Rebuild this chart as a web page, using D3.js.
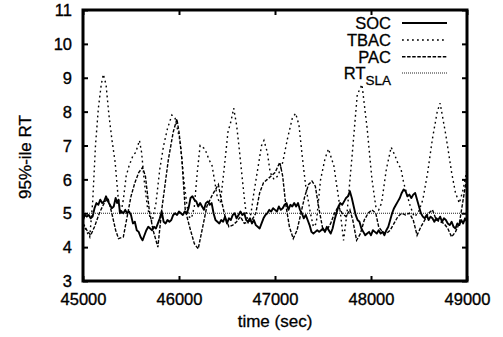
<!DOCTYPE html>
<html><head><meta charset="utf-8">
<script src="https://cdn.jsdelivr.net/npm/d3@7"></script>
<style>
html,body{margin:0;padding:0;background:#fff;}
svg{display:block;font-family:"Liberation Sans",Arial,Helvetica,sans-serif;}
</style></head>
<body>
<svg id="chart" width="503" height="337"></svg>
<script>
// ---------- data ----------
const xTicks = [45000, 46000, 47000, 48000, 49000];
const yTicks = [3, 4, 5, 6, 7, 8, 9, 10, 11];
const seriesNames = ["SOC", "TBAC", "PAC", "RT_SLA"];
const slaValue = 5;

const socData = [
[45000,4.8],[45020,4.95],[45040,4.9],[45060,4.95],[45080,4.85],[45100,4.9],[45120,5.15],[45140,5.3],[45160,5.25],[45180,5.4],
[45200,5.3],[45220,5.35],[45240,5.5],[45260,5.35],[45280,5.25],[45300,5.15],[45320,5.2],[45340,5.45],[45355,5.3],[45370,5.4],
[45385,5.0],[45400,5.05],[45420,5.0],[45440,5.1],[45460,5.0],[45480,5.05],[45500,4.95],[45520,4.7],[45540,4.75],[45560,4.5],
[45580,4.45],[45600,4.3],[45620,4.2],[45640,4.35],[45660,4.5],[45680,4.6],[45700,4.55],[45720,4.5],[45740,4.6],[45760,4.55],
[45780,4.7],[45800,4.85],[45820,5.05],[45840,4.75],[45860,4.7],[45880,4.8],[45900,4.75],[45920,4.8],[45940,4.95],[45960,5.0],
[45980,4.95],[46000,5.05],[46020,5.0],[46040,4.95],[46060,5.05],[46080,5.0],[46100,5.15],[46120,5.45],[46140,5.5],[46160,5.4],
[46180,5.35],[46200,5.2],[46220,5.3],[46240,5.2],[46260,5.1],[46280,5.3],[46300,5.35],[46320,5.25],[46340,5.3],[46360,5.0],
[46380,4.8],[46400,4.75],[46420,4.7],[46440,4.8],[46460,4.75],[46480,4.9],[46500,4.7],[46520,4.85],[46540,4.8],[46560,4.95],
[46580,5.0],[46600,4.85],[46620,4.95],[46640,5.05],[46660,4.95],[46680,5.0],[46700,4.8],[46720,4.75],[46740,4.85],[46760,4.7],
[46780,4.8],[46800,4.65],[46820,4.6],[46840,4.55],[46860,4.7],[46880,4.85],[46900,4.95],[46920,5.0],[46940,5.1],[46960,5.05],
[46980,5.15],[47000,5.1],[47020,5.05],[47040,5.2],[47060,5.1],[47080,5.15],[47100,5.25],[47120,5.3],[47140,5.1],[47160,5.25],
[47180,5.2],[47200,5.3],[47220,5.2],[47240,5.3],[47260,5.1],[47280,5.0],[47300,4.85],[47320,4.95],[47340,4.8],[47360,4.65],
[47380,4.45],[47400,4.4],[47420,4.45],[47440,4.5],[47460,4.45],[47480,4.5],[47500,4.55],[47520,4.45],[47540,4.6],[47560,4.5],
[47580,4.4],[47600,4.55],[47620,4.8],[47640,5.0],[47660,5.2],[47680,5.3],[47700,5.25],[47720,5.35],[47740,5.45],[47760,5.5],
[47780,5.65],[47800,5.45],[47820,5.2],[47840,4.95],[47860,4.8],[47880,4.75],[47900,4.55],[47920,4.45],[47940,4.35],[47960,4.4],
[47980,4.45],[48000,4.35],[48020,4.5],[48040,4.45],[48060,4.4],[48080,4.5],[48100,4.4],[48120,4.45],[48140,4.35],[48160,4.5],
[48180,4.6],[48200,4.8],[48220,5.0],[48240,5.15],[48260,5.25],[48280,5.35],[48300,5.45],[48320,5.6],[48340,5.7],[48360,5.65],
[48380,5.5],[48400,5.55],[48420,5.45],[48440,5.55],[48460,5.6],[48480,5.4],[48500,5.2],[48520,5.0],[48540,4.9],[48560,4.85],
[48580,4.95],[48600,4.8],[48620,4.9],[48640,4.85],[48660,4.75],[48680,4.85],[48700,4.8],[48720,4.9],[48740,4.75],[48760,4.85],
[48780,4.8],[48800,4.7],[48820,4.65],[48840,4.75],[48860,4.6],[48880,4.55],[48900,4.7],[48920,4.65],[48940,4.8],[48960,4.7],
[48980,4.85],[49000,4.75]
];

const tbacData = [
[45000,4.7],[45040,4.45],[45070,4.3],[45100,5.3],[45130,7.0],[45160,8.1],[45190,8.8],[45212,9.1],[45240,8.8],[45270,7.9],
[45300,7.2],[45335,6.5],[45365,5.5],[45395,5.0],[45420,5.4],[45450,6.1],[45480,6.4],[45520,6.7],[45550,6.8],[45588,7.15],
[45610,6.8],[45640,5.9],[45670,5.2],[45700,4.85],[45720,4.75],[45760,5.3],[45800,6.3],[45840,7.0],[45880,7.5],[45926,7.9],
[45960,7.8],[46013,7.1],[46050,6.0],[46075,5.4],[46100,4.9],[46130,4.85],[46160,5.2],[46190,6.2],[46220,7.0],[46270,6.9],
[46310,6.6],[46345,6.4],[46380,5.8],[46400,5.45],[46430,5.3],[46470,6.3],[46510,7.4],[46540,7.7],[46570,8.1],[46600,7.6],
[46620,7.1],[46660,6.0],[46690,5.2],[46720,4.7],[46750,5.0],[46780,5.6],[46820,6.3],[46860,7.0],[46885,7.15],[46920,6.8],
[46950,6.2],[46990,6.0],[47030,6.1],[47080,6.5],[47130,7.2],[47180,7.8],[47215,7.95],[47250,7.6],[47283,6.7],[47320,5.8],
[47369,5.0],[47400,4.6],[47430,4.7],[47474,5.98],[47520,6.6],[47557,6.9],[47613,6.4],[47665,5.4],[47714,4.2],[47750,5.0],
[47800,6.6],[47857,8.5],[47906,8.8],[47960,7.5],[48010,6.0],[48050,5.2],[48080,5.1],[48110,5.3],[48160,6.3],[48210,6.95],
[48250,6.7],[48290,6.4],[48310,6.35],[48340,5.9],[48370,5.6],[48410,5.2],[48450,4.9],[48490,5.0],[48540,5.4],[48590,6.2],
[48640,7.2],[48690,8.0],[48720,8.25],[48780,7.3],[48840,6.2],[48880,5.6],[48920,5.3],[48960,5.7],[49000,6.3]
];

const pacData = [
[45000,4.7],[45040,4.5],[45080,4.35],[45120,4.6],[45170,5.0],[45220,5.3],[45260,5.45],[45300,5.0],[45340,4.5],[45370,4.25],
[45420,4.3],[45460,4.9],[45500,5.5],[45540,5.9],[45580,6.2],[45620,6.35],[45650,6.1],[45690,5.1],[45730,4.5],[45780,4.0],
[45820,5.1],[45890,6.6],[45940,7.4],[45978,7.78],[46000,7.4],[46030,6.6],[46065,5.1],[46110,4.6],[46160,4.1],[46200,3.95],
[46240,4.5],[46290,5.2],[46340,5.5],[46380,5.7],[46410,5.85],[46440,5.4],[46480,4.9],[46520,4.6],[46560,4.65],[46600,4.75],
[46640,4.9],[46680,4.7],[46720,4.75],[46760,4.8],[46800,5.0],[46840,5.6],[46880,5.9],[46920,6.0],[46960,6.1],[47000,6.2],
[47050,6.5],[47080,6.1],[47110,5.3],[47150,4.6],[47190,4.25],[47230,4.5],[47270,5.0],[47310,5.5],[47350,5.85],[47385,5.95],
[47420,5.8],[47460,5.1],[47500,4.5],[47540,4.5],[47580,4.7],[47620,5.0],[47660,5.2],[47700,5.0],[47740,4.9],[47780,5.1],
[47810,4.8],[47850,4.2],[47890,4.4],[47930,4.8],[47970,5.0],[48010,5.1],[48050,5.0],[48080,4.6],[48120,4.45],[48160,4.4],
[48200,4.5],[48240,4.7],[48280,4.9],[48320,5.0],[48360,4.95],[48400,5.0],[48440,4.8],[48480,4.35],[48520,4.6],[48560,4.8],
[48600,5.0],[48640,5.1],[48680,4.8],[48720,4.75],[48760,4.7],[48800,4.55],[48840,4.3],[48880,4.45],[48920,4.7],[48960,5.4],
[49000,6.1]
];

// ---------- layout ----------
const W = 503, H = 337;
const m = {left: 83, right: 467, top: 10, bottom: 281};
const svg = d3.select("#chart");

const x = d3.scaleLinear().domain([45000, 49000]).range([m.left, m.right]);
const y = d3.scaleLinear().domain([3, 11]).range([m.bottom, m.top]);

svg.append("defs").append("clipPath").attr("id","clip")
  .append("rect").attr("x", m.left).attr("y", m.top)
  .attr("width", m.right - m.left).attr("height", m.bottom - m.top);

const line = d3.line().x(d => x(d[0])).y(d => y(d[1]));
const g = svg.append("g").attr("clip-path","url(#clip)");

const styles = {
  SOC:   {w: 1.9, dash: null},
  TBAC:  {w: 1.4, dash: "1.8,3.2"},
  PAC:   {w: 1.4, dash: "3.5,1.6"},
  RT_SLA:{w: 1.0, dash: "1,1"}
};

g.append("path").datum([[45000, slaValue],[49000, slaValue]])
  .attr("d", line).attr("fill","none").attr("stroke","#222")
  .attr("stroke-width", styles.RT_SLA.w).attr("stroke-dasharray", styles.RT_SLA.dash);
g.append("path").datum(pacData).attr("d", line).attr("fill","none").attr("stroke","#000")
  .attr("stroke-width", styles.PAC.w).attr("stroke-dasharray", styles.PAC.dash);
g.append("path").datum(tbacData).attr("d", line).attr("fill","none").attr("stroke","#000")
  .attr("stroke-width", styles.TBAC.w).attr("stroke-dasharray", styles.TBAC.dash);
g.append("path").datum(socData).attr("d", line).attr("fill","none").attr("stroke","#000")
  .attr("stroke-width", styles.SOC.w).attr("stroke-linejoin","round");

// ---------- axes ----------
const fs = 16.5;
const axL = svg.append("g").attr("transform",`translate(${m.left},0)`)
  .call(d3.axisLeft(y).tickValues(yTicks).tickSize(-5).tickPadding(11).tickFormat(d3.format("d")));
const axB = svg.append("g").attr("transform",`translate(0,${m.bottom})`)
  .call(d3.axisBottom(x).tickValues(xTicks).tickSize(-5).tickPadding(12).tickFormat(d3.format("d")));
const axT = svg.append("g").attr("transform",`translate(0,${m.top})`)
  .call(d3.axisTop(x).tickValues(xTicks).tickSize(-5).tickFormat(""));
const axR = svg.append("g").attr("transform",`translate(${m.right},0)`)
  .call(d3.axisRight(y).tickValues(yTicks).tickSize(-5).tickFormat(""));
[axL, axB, axT, axR].forEach(a => {
  a.select(".domain").remove();
  a.selectAll(".tick line").attr("stroke","#000").attr("stroke-width",2);
  a.selectAll("text").attr("font-size", fs).attr("font-family","Liberation Sans, Arial, sans-serif")
    .attr("fill","#000").attr("stroke","#000").attr("stroke-width",0.35);
});
axL.selectAll(".tick text").attr("dy", "0.34em");

// frame
svg.append("rect").attr("x", m.left).attr("y", m.top)
  .attr("width", m.right - m.left).attr("height", m.bottom - m.top)
  .attr("fill","none").attr("stroke","#000").attr("stroke-width",3);

// axis titles
svg.append("text").attr("x", 275).attr("y", 327).attr("text-anchor","middle")
  .attr("font-size", 17).attr("fill","#000").attr("stroke","#000").attr("stroke-width",0.3).text("time (sec)");
svg.append("text").attr("transform","translate(31,157) rotate(-90)").attr("text-anchor","middle")
  .attr("font-size", 17).attr("fill","#000").attr("stroke","#000").attr("stroke-width",0.3).text("95%-ile RT");

// ---------- legend ----------
const legY = [23, 40, 56.7, 73];
const legTextX = 391, legX1 = 402, legX2 = 447;
seriesNames.forEach((name, i) => {
  const st = styles[name];
  const ly = legY[i];
  const t = svg.append("text").attr("x", legTextX).attr("y", ly + 6).attr("text-anchor","end")
    .attr("font-size", fs).attr("fill","#000").attr("stroke","#000").attr("stroke-width",0.3);
  if (name === "RT_SLA") {
    t.append("tspan").text("RT");
    t.append("tspan").attr("dy", 6).attr("font-size", 13.5).text("SLA");
  } else {
    t.text(name);
  }
  svg.append("line").attr("x1", legX1).attr("x2", legX2).attr("y1", ly).attr("y2", ly)
    .attr("stroke", name === "RT_SLA" ? "#222" : "#000").attr("stroke-width", st.w)
    .attr("stroke-dasharray", st.dash);
});
</script>
</body></html>
